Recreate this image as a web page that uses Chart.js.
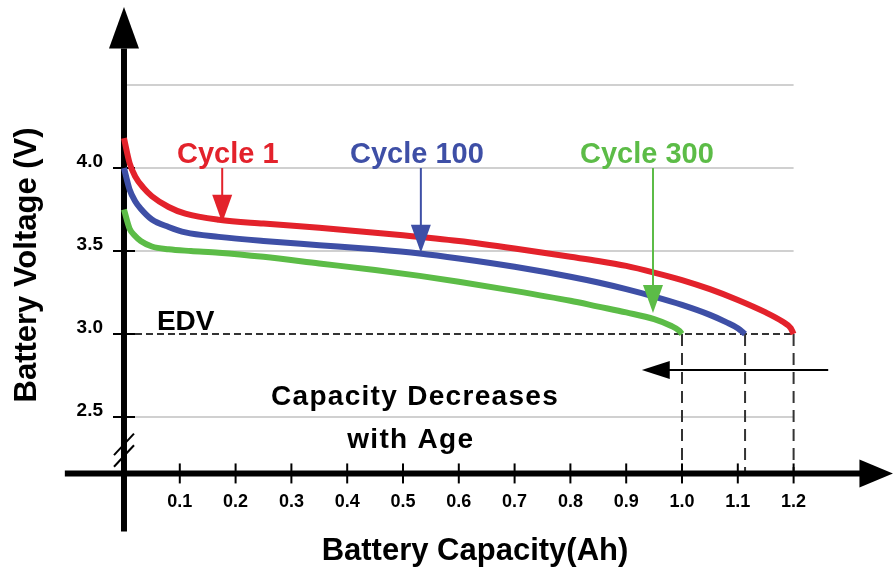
<!DOCTYPE html>
<html>
<head>
<meta charset="utf-8">
<script src="https://cdn.jsdelivr.net/npm/chart.js@4.4.1/dist/chart.umd.min.js"></script>
<style>
  html, body { margin: 0; padding: 0; background: #fff; }
</style>
</head>
<body>
<canvas id="batteryChart" width="896" height="567"></canvas>
<script>
// series data
const cycleLabels = ['Cycle 1', 'Cycle 100', 'Cycle 300'];

const cycle1Capacity = [0, 0.01, 0.02, 0.035, 0.05, 0.08, 0.11, 0.17, 0.25, 0.35, 0.5, 0.6, 0.7, 0.8, 0.85, 0.9, 0.95, 1.0, 1.05, 1.1, 1.15, 1.18, 1.195, 1.2];
const cycle1Voltage  = [4.18, 4.03, 3.95, 3.88, 3.83, 3.765, 3.725, 3.688, 3.665, 3.64, 3.595, 3.56, 3.515, 3.465, 3.44, 3.41, 3.37, 3.325, 3.27, 3.205, 3.13, 3.075, 3.035, 3.0];

const cycle100Capacity = [0, 0.01, 0.02, 0.03, 0.05, 0.08, 0.11, 0.17, 0.25, 0.35, 0.45, 0.53, 0.6, 0.7, 0.8, 0.85, 0.9, 0.95, 1.0, 1.05, 1.08, 1.1, 1.113];
const cycle100Voltage  = [4.00, 3.87, 3.80, 3.755, 3.69, 3.645, 3.612, 3.585, 3.56, 3.535, 3.51, 3.485, 3.455, 3.405, 3.345, 3.31, 3.27, 3.225, 3.175, 3.115, 3.07, 3.035, 3.0];

const cycle300Capacity = [0, 0.01, 0.02, 0.03, 0.05, 0.08, 0.12, 0.17, 0.25, 0.35, 0.45, 0.53, 0.6, 0.7, 0.8, 0.85, 0.9, 0.95, 0.98, 0.995, 1.0];
const cycle300Voltage  = [3.75, 3.635, 3.59, 3.56, 3.527, 3.51, 3.50, 3.49, 3.465, 3.425, 3.385, 3.35, 3.315, 3.26, 3.20, 3.165, 3.13, 3.09, 3.05, 3.02, 3.0];

const xTickValues = [0.1, 0.2, 0.3, 0.4, 0.5, 0.6, 0.7, 0.8, 0.9, 1.0, 1.1, 1.2];
const xTickLabels = ['0.1', '0.2', '0.3', '0.4', '0.5', '0.6', '0.7', '0.8', '0.9', '1.0', '1.1', '1.2'];
const yTickValues = [2.5, 3.0, 3.5, 4.0];
const yTickLabels = ['2.5', '3.0', '3.5', '4.0'];
const gridVoltages = [2.5, 3.5, 4.0, 4.5];
const edvVoltage = 3.0;

const colors = ['#e3222b', '#3e4fa6', '#5cbc47'];
const FONT = '"Liberation Sans", Arial, Helvetica, sans-serif';

function toPoints(xs, ys) {
  return xs.map((x, i) => ({ x: x, y: ys[i] }));
}

function line(ctx, x1, y1, x2, y2) {
  ctx.beginPath();
  ctx.moveTo(x1, y1);
  ctx.lineTo(x2, y2);
  ctx.stroke();
}

function tri(ctx, a, b, c) {
  ctx.beginPath();
  ctx.moveTo(a[0], a[1]);
  ctx.lineTo(b[0], b[1]);
  ctx.lineTo(c[0], c[1]);
  ctx.closePath();
  ctx.fill();
}

// grid, EDV line, axes (under the curves)
const backdrop = {
  id: 'backdrop',
  beforeDatasetsDraw(chart) {
    const ctx = chart.ctx;
    const X = v => chart.scales.x.getPixelForValue(v);
    const Y = v => chart.scales.y.getPixelForValue(v);
    const axisY = 2.16;
    ctx.save();

    ctx.strokeStyle = '#d0d0d0';
    ctx.lineWidth = 2;
    gridVoltages.forEach(v => line(ctx, X(0), Y(v), X(1.2), Y(v)));

    // end of discharge voltage
    ctx.strokeStyle = '#333';
    ctx.lineWidth = 2;
    ctx.setLineDash([7, 4]);
    line(ctx, X(0), Y(edvVoltage), X(1.2), Y(edvVoltage));

    // drop lines from each end capacity
    const ends = [cycle1Capacity, cycle100Capacity, cycle300Capacity].map(a => a[a.length - 1]);
    ctx.setLineDash([12, 7]);
    ends.forEach(c => line(ctx, X(c), Y(edvVoltage), X(c), Y(axisY)));
    ctx.setLineDash([]);

    // axes
    ctx.strokeStyle = '#000';
    ctx.fillStyle = '#000';
    ctx.lineWidth = 6;
    line(ctx, X(-0.106), Y(axisY), X(1.33), Y(axisY));
    line(ctx, X(0), Y(1.81), X(0), Y(4.72));
    tri(ctx, [X(1.378), Y(axisY)], [X(1.318), Y(axisY) - 14], [X(1.318), Y(axisY) + 14]);
    tri(ctx, [X(0), Y(4.97)], [X(0) - 15, Y(4.72)], [X(0) + 15, Y(4.72)]);

    // tick marks
    ctx.lineWidth = 2;
    xTickValues.forEach(v => line(ctx, X(v), Y(axisY) - 10, X(v), Y(axisY) + 10));
    yTickValues.forEach(v => line(ctx, X(0) - 11, Y(v), X(0) + 11, Y(v)));

    // axis break
    line(ctx, X(0) - 10, Y(2.27), X(0) + 10, Y(2.4));
    line(ctx, X(0) - 10, Y(2.2), X(0) + 10, Y(2.33));

    // tick labels
    ctx.font = 'bold 18px ' + FONT;
    ctx.textAlign = 'center';
    ctx.textBaseline = 'alphabetic';
    xTickValues.forEach((v, i) => ctx.fillText(xTickLabels[i], X(v), Y(axisY) + 34));
    ctx.font = 'bold 19px ' + FONT;
    ctx.textAlign = 'right';
    yTickValues.forEach((v, i) => ctx.fillText(yTickLabels[i], X(0) - 21, Y(v) - 1));

    // axis titles
    ctx.font = 'bold 31px ' + FONT;
    ctx.textAlign = 'center';
    ctx.fillText('Battery Capacity(Ah)', X(0.629), Y(1.64));
    ctx.save();
    ctx.translate(27, Y(3.416));
    ctx.rotate(-Math.PI / 2);
    ctx.textBaseline = 'middle';
    ctx.fillText('Battery Voltage (V)', 0, 0);
    ctx.restore();

    ctx.restore();
  }
};

// labels and arrows (over the curves)
const notes = {
  id: 'notes',
  afterDatasetsDraw(chart) {
    const ctx = chart.ctx;
    const X = v => chart.scales.x.getPixelForValue(v);
    const Y = v => chart.scales.y.getPixelForValue(v);
    ctx.save();

    const callouts = [
      { textX: 0.186, tipX: 0.176, tipY: 3.67 },
      { textX: 0.525, tipX: 0.532, tipY: 3.49 },
      { textX: 0.937, tipX: 0.948, tipY: 3.127 }
    ];
    ctx.font = 'bold 29px ' + FONT;
    ctx.textAlign = 'center';
    ctx.textBaseline = 'alphabetic';
    callouts.forEach((c, i) => {
      ctx.fillStyle = colors[i];
      ctx.strokeStyle = colors[i];
      ctx.fillText(cycleLabels[i], X(c.textX), Y(4.03));
      const tx = X(c.tipX), ty = Y(c.tipY);
      ctx.lineWidth = 2;
      line(ctx, tx, Y(4.0), tx, ty - 20);
      tri(ctx, [tx, ty], [tx - 10, ty - 28], [tx + 10, ty - 28]);
    });

    ctx.fillStyle = '#000';
    ctx.strokeStyle = '#000';
    ctx.font = 'bold 28px ' + FONT;
    ctx.textAlign = 'left';
    ctx.fillText('EDV', X(0.059), Y(3.024));

    // capacity arrow
    const ay = Y(2.783);
    ctx.lineWidth = 2;
    line(ctx, X(1.262), ay, X(0.95), ay);
    tri(ctx, [X(0.928), ay], [X(0.978), ay - 9], [X(0.978), ay + 9]);

    ctx.font = 'bold 28px ' + FONT;
    ctx.textAlign = 'center';
    ctx.letterSpacing = '1.3px';
    ctx.fillText('Capacity Decreases', X(0.5215), Y(2.572));
    ctx.fillText('with Age', X(0.514), Y(2.313));

    ctx.restore();
  }
};

const datasets = [
  toPoints(cycle1Capacity, cycle1Voltage),
  toPoints(cycle100Capacity, cycle100Voltage),
  toPoints(cycle300Capacity, cycle300Voltage)
].map((pts, i) => ({
  label: cycleLabels[i],
  data: pts,
  borderColor: colors[i],
  borderWidth: 6,
  pointRadius: 0,
  fill: false,
  cubicInterpolationMode: 'monotone',
  borderCapStyle: 'butt'
}));

new Chart(document.getElementById('batteryChart'), {
  type: 'line',
  data: { datasets: datasets },
  options: {
    responsive: false,
    animation: false,
    events: [],
    layout: { padding: 0 },
    plugins: {
      legend: { display: false },
      tooltip: { enabled: false }
    },
    scales: {
      x: { type: 'linear', display: false, min: -0.2222, max: 1.3835 },
      y: { type: 'linear', display: false, min: 1.5964, max: 5.012 }
    }
  },
  plugins: [backdrop, notes]
});
</script>
</body>
</html>
